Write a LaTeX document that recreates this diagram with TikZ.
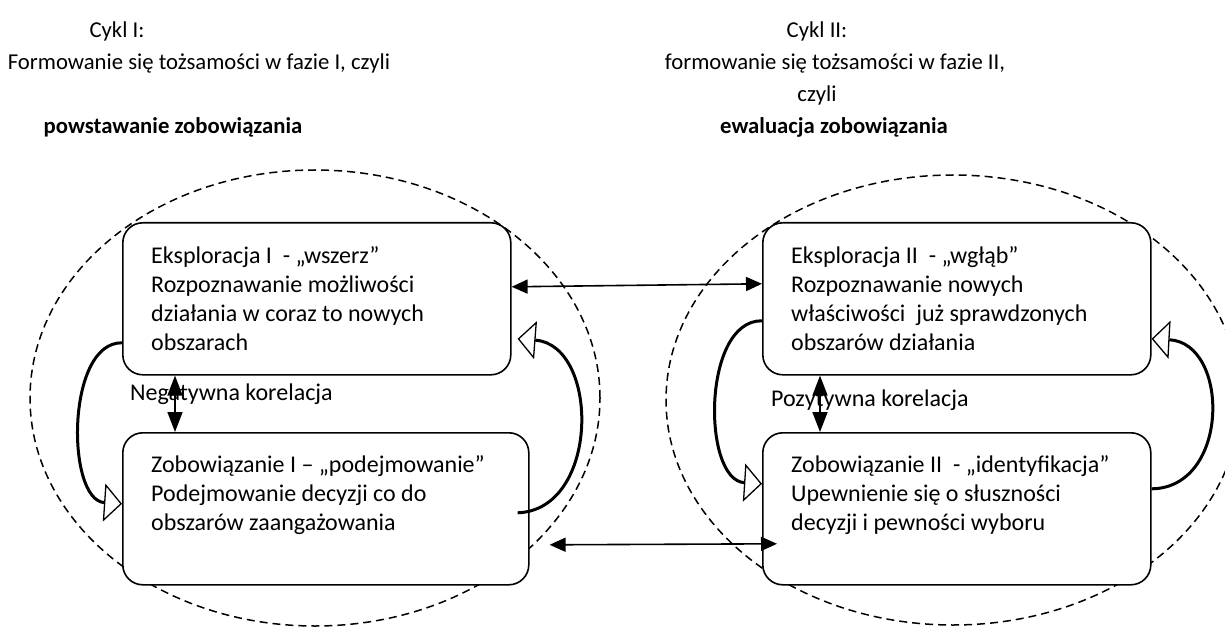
\documentclass[tikz,border=0pt]{standalone}
\usepackage{fontspec}
\setmainfont{Carlito}
\usetikzlibrary{arrows.meta,calc}
\newcommand\natsp{\spaceskip=0pt\xspaceskip=0pt\relax}
\begin{document}
\begin{tikzpicture}[x=1pt,y=-1pt,
  box/.style={draw, line width=1.6pt, rounded corners=20pt, fill=white, inner sep=0pt, anchor=north west, minimum height=152pt},
  txt/.style={anchor=base west, inner sep=0pt, text width=380pt, align=left, font=\fontsize{24pt}{29.3pt}\selectfont},
  ttl/.style={anchor=base, inner sep=0pt, font=\fontsize{22.7pt}{29pt}\selectfont},
  lbl/.style={anchor=base west, inner sep=0pt, font=\fontsize{24pt}{29pt}\selectfont},
  zone/.style={draw, dash pattern=on 8pt off 5pt, line width=1.5pt},
  link/.style={line width=1.6pt, {Triangle[length=16pt,width=14pt]}-{Triangle[length=16pt,width=14pt]}},
  linkv/.style={line width=1.6pt, {Triangle[length=20pt,width=15pt]}-{Triangle[length=20pt,width=15pt]}},
  cyc/.style={line width=3pt, -{Triangle[open,length=18pt,width=38pt,line width=1.3pt]}}
]
\useasboundingbox (0,0) rectangle (1225,628);
\clip (0,0) rectangle (1225,628);

% titles
\node[ttl] (t1a) at (117,38) {Cykl I:};
\node[ttl] (t1b) at (199,70) {Formowanie się tożsamości w fazie I, czyli};
\node[ttl] (t1c) at (173,134) {\bfseries powstawanie zobowiązania};
\node[ttl] (t2a) at (817,38) {Cykl II:};
\node[ttl] (t2b) at (835,70) {formowanie się tożsamości w fazie II,};
\node[ttl] (t2c) at (817,102) {czyli};
\node[ttl] (t2d) at (834,134) {\bfseries ewaluacja zobowiązania};

% dashed zones
\draw[zone] (315,398) ellipse [x radius=285pt, y radius=228pt];
\draw[zone] (953,400) ellipse [x radius=287pt, y radius=225pt];

% boxes
\node[box, minimum width=388pt] (A) at (122,222) {};
\node[box, minimum width=406pt] (B) at (122,432) {};
\node[box, minimum width=388pt] (C) at (762,222) {};
\node[box, minimum width=388pt] (D) at (762,432) {};

\node[txt] (At) at ([xshift=29pt,yshift=-41pt]A.north west) {\natsp Eksploracja I~ - „wszerz”\\Rozpoznawanie możliwości\\działania w coraz to nowych\\obszarach};
\node[txt] (Bt) at ([xshift=29pt,yshift=-40pt]B.north west) {\natsp Zobowiązanie I – „podejmowanie”\\Podejmowanie decyzji co do\\obszarów zaangażowania};
\node[txt] (Ct) at ([xshift=29pt,yshift=-41pt]C.north west) {\natsp Eksploracja II~ - „wgłąb”\\Rozpoznawanie nowych\\właściwości~ już sprawdzonych\\obszarów działania};
\node[txt] (Dt) at ([xshift=29pt,yshift=-40pt]D.north west) {\natsp Zobowiązanie II~ - „identyfikacja”\\Upewnienie się o słuszności\\decyzji i pewności wyboru};

% correlation labels
\node[lbl] (neg) at (130,400) {Negatywna korelacja};
\node[lbl] (poz) at (771,406) {Pozytywna korelacja};

% cycle arrows
\draw[cyc] ([yshift=-44pt]A.west) .. controls (66,342) and (66,500) .. ([yshift=5pt]B.west);
\draw[cyc] ([xshift=-12pt,yshift=-4pt]B.east) .. controls (600,510) and (600,345) .. ([xshift=6pt,yshift=-40pt]A.east);
\draw[cyc] ([yshift=-22pt]C.west) .. controls (702,320) and (702,480) .. ([yshift=25pt]D.west);
\draw[cyc] ([yshift=20pt]D.east) .. controls (1230,488) and (1230,343) .. ([yshift=-40pt]C.east);

% correlation arrows
\draw[linkv] ([xshift=53pt]A.south west) -- ([xshift=53pt]B.north west);
\draw[linkv] ([xshift=58pt]C.south west) -- ([xshift=58pt]D.north west);

% links between cycles
\draw[link] ([yshift=12pt]A.east) -- ([yshift=15pt]C.west);
\draw[link] ([xshift=20pt,yshift=-36pt]B.east) -- ([xshift=15pt,yshift=-35pt]D.west);
\end{tikzpicture}
\end{document}
